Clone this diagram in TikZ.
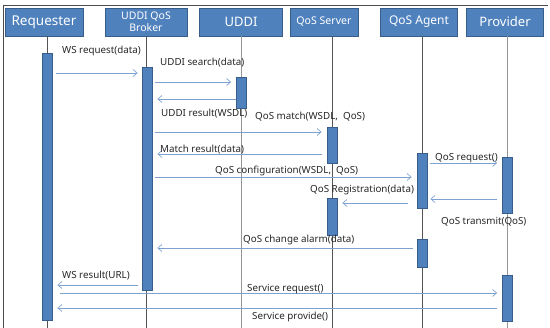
\documentclass[tikz,border=0pt]{standalone}
\usepackage{fontspec}
\setmainfont{Noto Sans}
\usetikzlibrary{arrows.meta}
\definecolor{boxfill}{RGB}{79,129,189}
\definecolor{boxedge}{RGB}{56,93,138}
\definecolor{msgline}{RGB}{125,162,208}
\definecolor{lifedark}{RGB}{85,85,85}
\definecolor{lifelight}{RGB}{150,150,150}
\tikzset{
  actor/.style={draw=boxedge, fill=boxfill, text=white, line width=0.8pt,
    minimum height=28pt, inner sep=1pt, align=center, font=\fontsize{#1}{#1}\selectfont},
  actor/.default=12,
  actbar/.style={draw=boxedge, fill=boxfill, line width=0.8pt, minimum width=10pt,
    inner sep=0pt},
  lifeline/.style={line width=1pt, draw=lifedark},
  msg/.style={draw=msgline, line width=0.8pt,
    -{Straight Barb[length=4pt,width=7pt,line width=0.7pt]}},
  lbl/.style={anchor=west, inner sep=0pt, text=black!85,
    font=\fontsize{9.8}{10}\selectfont}
}
\begin{document}
\begin{tikzpicture}[x=1pt,y=-1pt]
\useasboundingbox (0,0) rectangle (550,328);
% frame
\draw[line width=0.8pt, black!70] (3,328) -- (3,5) -- (548,5);

% participants
\node[actor=13.5, minimum width=78pt] (req)  at (44,22)  {Requester};
\node[actor=10.5, minimum width=82pt, font=\fontsize{10.5}{12}\selectfont] (brk) at (146,22) {UDDI QoS\\Broker};
\node[actor=13,   minimum width=83pt] (uddi) at (241,22) {UDDI};
\node[actor=10.6, minimum width=68pt] (qsrv) at (324,22) {QoS Server};
\node[actor=12,   minimum width=77pt] (qagt) at (419,22) {QoS Agent};
\node[actor=13,   minimum width=77pt] (prov) at (505,22) {Provider};

% lifelines
\coordinate (endreq)  at (47,328);
\coordinate (endbrk)  at (146,328);
\coordinate (enduddi) at (241,328);
\coordinate (endqsrv) at (332,328);
\coordinate (endqagt) at (422,328);
\coordinate (endprov) at (507,328);
\draw[lifeline] (req.south -| endreq) -- (endreq);
\draw[lifeline] (brk.south -| endbrk) -- (endbrk);
\draw[lifeline, draw=lifelight] (uddi.south -| enduddi) -- (enduddi);
\draw[lifeline] (qsrv.south -| endqsrv) -- (endqsrv);
\draw[lifeline] (qagt.south -| endqagt) -- (endqagt);
\draw[lifeline, draw=lifelight] (prov.south -| endprov) -- (endprov);

% activation bars
\node[actbar, minimum height=267pt] (reqA)  at (47,186.5) {};
\node[actbar, minimum height=223pt] (brkA)  at (147,178.5) {};
\node[actbar, minimum height=31pt]  (uddiA) at (241.5,92.5) {};
\node[actbar, minimum height=36pt]  (srvA)  at (332,145) {};
\node[actbar, minimum height=37pt]  (srvB)  at (332,216.5) {};
\node[actbar, minimum height=55pt]  (agtA)  at (422,180.5) {};
\node[actbar, minimum height=28pt]  (agtB)  at (422,253) {};
\node[actbar, minimum height=56pt]  (prvA)  at (507.5,185) {};
\node[actbar, minimum height=46pt]  (prvB)  at (507.5,298) {};

% messages
\draw[msg, shorten <=4pt, shorten >=4pt] (reqA.east |- 0,73)  -- (brkA.west |- 0,73);
\draw[msg, shorten <=3pt, shorten >=5pt] (brkA.east |- 0,82)  -- (uddiA.west |- 0,82);
\draw[msg, shorten >=5pt]                (uddiA.west |- 0,99) -- (brkA.east |- 0,99);
\draw[msg, shorten <=3pt, shorten >=5pt] (brkA.east |- 0,132) -- (srvA.west |- 0,132);
\draw[msg, shorten <=5pt, shorten >=5pt] (srvA.west |- 0,154) -- (brkA.east |- 0,154);
\draw[msg, shorten <=3pt, shorten >=5pt] (brkA.east |- 0,177) -- (agtA.west |- 0,177);
\draw[msg, shorten <=3pt, shorten >=5pt] (agtA.east |- 0,163) -- (prvA.west |- 0,163);
\draw[msg, shorten <=5pt, shorten >=3pt] (prvA.west |- 0,199) -- (agtA.east |- 0,199);
\draw[msg, shorten <=9pt, shorten >=5pt] (agtA.west |- 0,203) -- (srvB.east |- 0,203);
\draw[msg, shorten <=4pt, shorten >=5pt] (agtB.west |- 0,248) -- (brkA.east |- 0,248);
\draw[msg, shorten <=4pt, shorten >=5pt] (brkA.west |- 0,285) -- (reqA.east |- 0,285);
\draw[msg, shorten <=8pt, shorten >=5pt] (reqA.east |- 0,293) -- (prvB.west |- 0,293);
\draw[msg, shorten <=5pt, shorten >=5pt] (prvB.west |- 0,308) -- (reqA.east |- 0,308);

% message labels
\node[lbl] (l1)  at (62,51)   {WS request(data)};
\node[lbl] (l2)  at (160,63)  {UDDI search(data)};
\node[lbl] (l3)  at (161,114) {UDDI result(WSDL)};
\node[lbl] (l4)  at (255,117) {QoS match(WSDL,\ \ QoS)};
\node[lbl] (l5)  at (160,150) {Match result(data)};
\node[lbl] (l6)  at (215,171) {QoS configuration(WSDL,\ \ QoS)};
\node[lbl] (l7)  at (435,158) {QoS request()};
\node[lbl] (l8)  at (310,190) {QoS Registration(data)};
\node[lbl] (l9)  at (441,222) {QoS transmit(QoS)};
\node[lbl] (l10) at (243,240) {QoS change alarm(data)};
\node[lbl] (l11) at (62,276)  {WS result(URL)};
\node[lbl] (l12) at (247,289) {Service request()};
\node[lbl] (l13) at (252,317) {Service provide()};
\end{tikzpicture}
\end{document}
